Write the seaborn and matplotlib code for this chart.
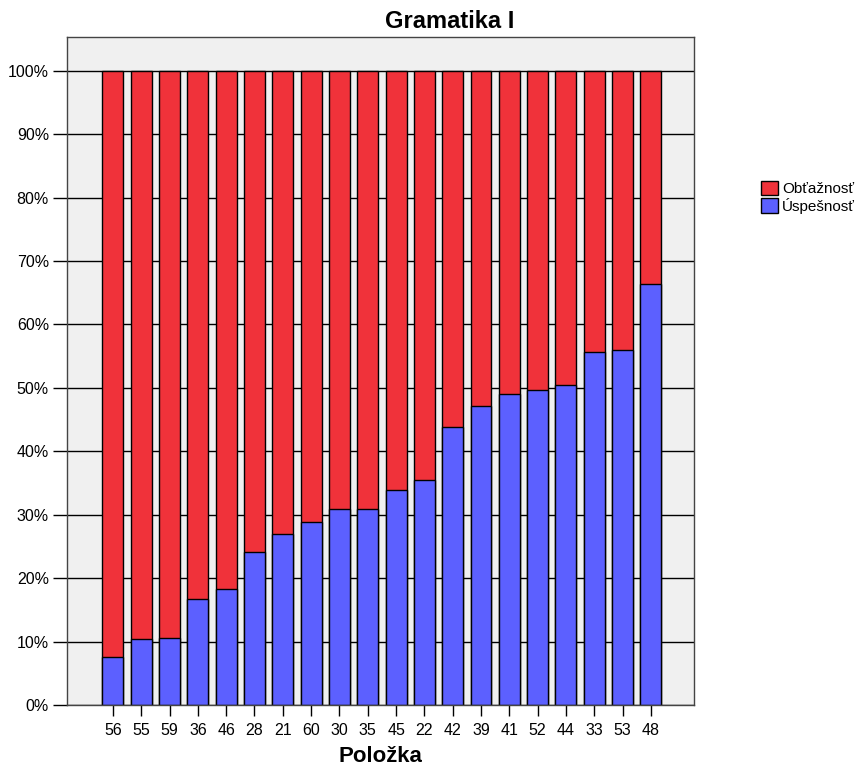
import numpy as np
import pandas as pd
import matplotlib
matplotlib.use('Agg')
import matplotlib.pyplot as plt
import seaborn as sns
from matplotlib.patches import Patch

# item labels, in plotted order
polozka = ['56', '55', '59', '36', '46', '28', '21', '60', '30', '35',
           '45', '22', '42', '39', '41', '52', '44', '33', '53', '48']
# success rate (%)
uspesnost = [7.5, 10.4, 10.5, 16.7, 18.3, 24.1, 27.0, 28.9, 30.9, 30.9,
             33.9, 35.5, 43.9, 47.2, 49.0, 49.6, 50.4, 55.7, 56.0, 66.3]
# difficulty = rest up to 100 %
obtaznost = [100 - u for u in uspesnost]

RED = '#F0323A'
BLUE = '#5C60FF'

sns.set_style('white')
plt.rcParams['font.family'] = ['Liberation Sans', 'DejaVu Sans']
plt.rcParams['text.color'] = 'black'
plt.rcParams['axes.labelcolor'] = 'black'
plt.rcParams['xtick.color'] = 'black'
plt.rcParams['ytick.color'] = 'black'

df = pd.DataFrame({'polozka': polozka, 'uspesnost': uspesnost, 'obtaznost': obtaznost})
df['spolu'] = df['uspesnost'] + df['obtaznost']

fig = plt.figure(figsize=(8.68, 7.71), dpi=100)
ax = fig.add_axes([0.0772, 0.0856, 0.7223, 0.8664])
ax.set_facecolor('#F0F0F0')

# horizontal grid lines below bars
ax.set_axisbelow(True)
ax.yaxis.grid(True, color='black', linewidth=1.0)

# stacked: red for full height, blue drawn over it
sns.barplot(data=df, x='polozka', y='spolu', color=RED, saturation=1,
            width=0.74, edgecolor='black', linewidth=1.0, ax=ax)
sns.barplot(data=df, x='polozka', y='uspesnost', color=BLUE, saturation=1,
            width=0.74, edgecolor='black', linewidth=1.0, ax=ax)

ax.set_xlim(-1.62, 19.52 + 1.0)
ax.set_ylim(0, 105.3)
ax.set_yticks(np.arange(0, 101, 10))
ax.set_yticklabels([f'{v}%' for v in range(0, 101, 10)])
ax.tick_params(axis='y', length=10, width=1.0, color='black', labelsize=11.5, pad=3)
ax.tick_params(axis='x', length=8, width=1.0, color='black', labelsize=11.5, pad=5)
ax.tick_params(bottom=True, left=True)

for s in ax.spines.values():
    s.set_color('#444444')
    s.set_linewidth(1.0)

ax.set_ylabel('')
ax.set_xlabel('Položka', fontsize=16, fontweight='bold', labelpad=6)
fig.text(450 / 868, 1 - 22 / 771, 'Gramatika I', fontsize=17, fontweight='bold',
         ha='center', va='center')

handles = [Patch(facecolor=RED, edgecolor='black', label='Obťažnosť'),
           Patch(facecolor=BLUE, edgecolor='black', label='Úspešnosť')]
fig.legend(handles=handles, loc='upper left', bbox_to_anchor=(750 / 868, 1 - 170 / 771),
           frameon=False, fontsize=11, handlelength=1.1, handleheight=1.1,
           handletextpad=0.3, labelspacing=0.1, borderpad=0.2)

fig.savefig('out.png', dpi=100)
